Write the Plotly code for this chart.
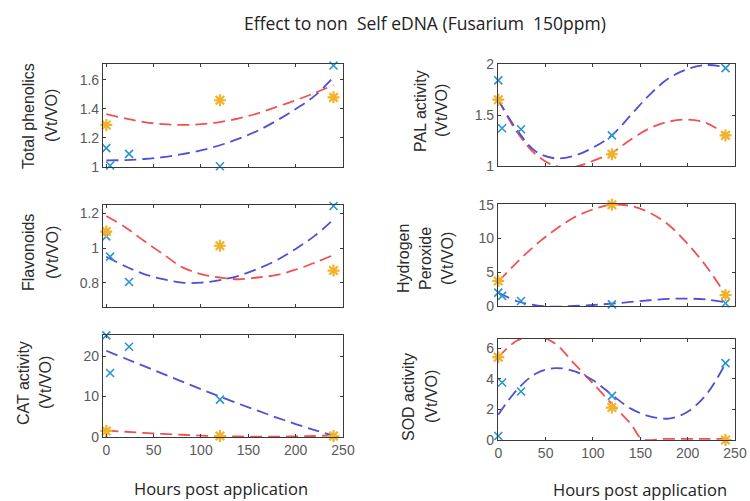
import plotly.graph_objects as go

# ---------------- data ----------------
hours_blue = [0, 4, 24, 120, 240]
hours_yellow = [0, 120, 240]
fit_hours = [0, 20, 40, 60, 80, 100, 120, 140, 160, 180, 200, 220, 240]

phen_blue = [1.13, 1.01, 1.09, 1.005, 1.70]
phen_yellow = [1.29, 1.46, 1.48]
phen_fit_blue = [1.045, 1.048, 1.055, 1.068, 1.088, 1.115, 1.15, 1.195, 1.25, 1.32, 1.40, 1.49, 1.62]
phen_fit_red = [1.365, 1.335, 1.31, 1.295, 1.29, 1.295, 1.31, 1.335, 1.37, 1.415, 1.46, 1.51, 1.565]

pal_blue = [1.84, 1.37, 1.36, 1.30, 1.96]
pal_yellow = [1.65, 1.115, 1.30]
pal_fit_blue = [1.65, 1.35, 1.14, 1.075, 1.10, 1.18, 1.30, 1.50, 1.70, 1.86, 1.95, 1.99, 1.97]
pal_fit_red = [1.65, 1.33, 1.11, 1.00, 0.99, 1.05, 1.13, 1.26, 1.37, 1.435, 1.455, 1.42, 1.31]

flav_blue = [1.067, 0.95, 0.804, 0.657, 1.242]
flav_yellow = [1.095, 1.013, 0.87]
flav_fit_blue = [0.95, 0.895, 0.85, 0.82, 0.80, 0.80, 0.815, 0.84, 0.88, 0.93, 0.995, 1.07, 1.165]
flav_fit_red = [1.185, 1.12, 1.04, 0.965, 0.89, 0.85, 0.83, 0.82, 0.83, 0.845, 0.875, 0.915, 0.96]

h2o2_blue = [1.98, 1.49, 0.74, 0.25, 0.4]
h2o2_yellow = [3.7, 15.0, 1.63]
h2o2_fit_blue = [2.0, 0.7, 0.1, -0.1, 0.0, 0.15, 0.35, 0.6, 0.85, 1.05, 1.1, 0.95, 0.55]
h2o2_fit_red = [3.6, 6.5, 9.1, 11.3, 13.1, 14.3, 15.0, 14.8, 13.8, 12.0, 9.2, 5.8, 1.7]

cat_blue = [25.1, 15.8, 22.3, 9.25, 0.25]
cat_yellow = [1.5, 0.25, 0.25]
cat_fit_blue = [21.3, 19.4, 17.5, 15.6, 13.7, 11.8, 10.0, 8.2, 6.5, 4.8, 3.2, 1.7, 0.3]
cat_fit_red = [1.6, 1.3, 1.0, 0.75, 0.55, 0.35, 0.2, 0.12, 0.08, 0.1, 0.15, 0.25, 0.4]

sod_blue = [0.26, 3.76, 3.17, 2.88, 5.02]
sod_yellow = [5.41, 2.12, 0.0]
sod_fit_blue = [1.65, 3.3, 4.35, 4.7, 4.5, 3.9, 2.95, 2.05, 1.55, 1.4, 1.85, 3.0, 5.0]
sod_red_hours = [0, 20, 40, 60, 80, 100, 120, 140, 152, 175, 200, 220, 240]
sod_fit_red = [5.4, 6.5, 6.8, 6.3, 5.0, 3.7, 2.35, 1.05, 0.07, 0.07, 0.07, 0.07, 0.07]

x_ticks = [0, 50, 100, 150, 200, 250]

title_text = "Effect to non \u00a0Self eDNA (Fusarium \u00a0150ppm)"
x_title = "Hours post application"

panels = [
    dict(blue=phen_blue, yellow=phen_yellow, fb=phen_fit_blue, fr=phen_fit_red, frx=fit_hours,
         yr=[1.0, 1.71], yt=[1, 1.2, 1.4, 1.6], lab=["Total phenolics", "(Vt/VO)"], xt=False),
    dict(blue=pal_blue, yellow=pal_yellow, fb=pal_fit_blue, fr=pal_fit_red, frx=fit_hours,
         yr=[1.0, 2.0], yt=[1, 1.5, 2], lab=["PAL activity", "(Vt/VO)"], xt=False),
    dict(blue=flav_blue, yellow=flav_yellow, fb=flav_fit_blue, fr=flav_fit_red, frx=fit_hours,
         yr=[0.66, 1.248], yt=[0.8, 1, 1.2], lab=["Flavonoids", "(Vt/VO)"], xt=False),
    dict(blue=h2o2_blue, yellow=h2o2_yellow, fb=h2o2_fit_blue, fr=h2o2_fit_red, frx=fit_hours,
         yr=[0, 15.1], yt=[0, 5, 10, 15], lab=["Hydrogen", "Peroxide", "(Vt/VO)"], xt=False),
    dict(blue=cat_blue, yellow=cat_yellow, fb=cat_fit_blue, fr=cat_fit_red, frx=fit_hours,
         yr=[0, 25.2], yt=[0, 10, 20], lab=["CAT activity", "(Vt/VO)"], xt=True),
    dict(blue=sod_blue, yellow=sod_yellow, fb=sod_fit_blue, fr=sod_fit_red, frx=sod_red_hours,
         yr=[0, 6.6], yt=[0, 2, 4, 6], lab=["SOD activity", "(Vt/VO)"], xt=True),
]

# ---------------- layout geometry (pixels) ----------------
W, H = 750, 501
xdom_px = [(103, 343), (498, 735)]
ydom_px = [[(64, 167), (64, 166)], [(205, 307), (204, 306)], [(335, 437), (339, 440)]]
xranges = [[-3.5, 250], [-0.3, 250]]
# first-line x, line spacing, vertical centre
ylab_px = [[(28, 23, 116), (421, 21, 111)], [(28, 24, 253), (403, 22, 259)], [(23, 22, 383), (408, 23, 397)]]

BLUE_LINE = "#4f4fd8"
RED_LINE = "#f05252"
BLUE_MK = "#2b94cc"
YEL_MK = "#f2b22a"
AXIS_C = "#3a3a3a"
TICK_C = "#5a5a5a"
DASH = "12px,6px"

fig = go.Figure()
annotations = []
layout = {}
for i, p in enumerate(panels):
    row, col = i // 2, i % 2
    n = i + 1
    xa = "x" if n == 1 else f"x{n}"
    ya = "y" if n == 1 else f"y{n}"
    fig.add_trace(go.Scatter(x=p["frx"], y=p["fr"], mode="lines", xaxis=xa, yaxis=ya,
                             line=dict(color=RED_LINE, width=1.8, dash=DASH, shape="spline"),
                             showlegend=False, hoverinfo="skip"))
    fig.add_trace(go.Scatter(x=fit_hours, y=p["fb"], mode="lines", xaxis=xa, yaxis=ya,
                             line=dict(color=BLUE_LINE, width=1.8, dash=DASH, shape="spline"),
                             showlegend=False, hoverinfo="skip"))
    fig.add_trace(go.Scatter(x=hours_blue, y=p["blue"], mode="markers", xaxis=xa, yaxis=ya,
                             marker=dict(symbol="x-thin", size=8, line=dict(color=BLUE_MK, width=1.6)),
                             showlegend=False, cliponaxis=False))
    fig.add_trace(go.Scatter(x=hours_yellow, y=p["yellow"], mode="markers", xaxis=xa, yaxis=ya,
                             marker=dict(symbol="asterisk", size=10, line=dict(color=YEL_MK, width=2.2)),
                             showlegend=False, cliponaxis=False))
    x0, x1 = xdom_px[col]
    yt0, yt1 = ydom_px[row][col]
    key_x = "xaxis" if n == 1 else f"xaxis{n}"
    key_y = "yaxis" if n == 1 else f"yaxis{n}"
    layout[key_x] = dict(domain=[x0 / W, x1 / W], range=xranges[col], anchor=ya,
                         tickvals=x_ticks, showticklabels=p["xt"], ticks="inside", ticklen=3,
                         tickcolor=AXIS_C, showline=True, linecolor=AXIS_C, linewidth=1.2,
                         mirror="ticks", showgrid=False, zeroline=False, automargin=False,
                         tickfont=dict(family="Liberation Sans, Arial", size=14, color=TICK_C))
    layout[key_y] = dict(domain=[1 - yt1 / H, 1 - yt0 / H], range=p["yr"], anchor=xa,
                         tickvals=p["yt"], ticks="inside", ticklen=3, tickcolor=AXIS_C,
                         showline=True, linecolor=AXIS_C, linewidth=1.2, mirror="ticks",
                         showgrid=False, zeroline=False, automargin=False,
                         tickfont=dict(family="Liberation Sans, Arial", size=14, color=TICK_C))
    lx, sp, ly = ylab_px[row][col]
    for k, line in enumerate(p["lab"]):
        annotations.append(dict(text=line, x=(lx + k * sp) / W, y=1 - ly / H, xref="paper", yref="paper",
                                textangle=-90, showarrow=False, xanchor="center", yanchor="middle",
                                font=dict(family="Liberation Sans, Arial", size=16, color="#2a2a2a")))

annotations.append(dict(text=title_text, x=425 / W, y=1 - 23 / H, xref="paper", yref="paper",
                        showarrow=False, xanchor="center", yanchor="middle",
                        font=dict(family="Open Sans", size=17.5, color="#222222")))
annotations.append(dict(text=x_title, x=221 / W, y=1 - 488 / H, xref="paper", yref="paper",
                        showarrow=False, xanchor="center", yanchor="middle",
                        font=dict(family="Open Sans", size=16.5, color="#222222")))
annotations.append(dict(text=x_title, x=640 / W, y=1 - 489 / H, xref="paper", yref="paper",
                        showarrow=False, xanchor="center", yanchor="middle",
                        font=dict(family="Open Sans", size=16.5, color="#222222")))

fig.update_layout(width=W, height=H, margin=dict(l=0, r=0, t=0, b=0),
                  paper_bgcolor="white", plot_bgcolor="white",
                  annotations=annotations, **layout)

fig.write_html("out.html", config={"displayModeBar": False},
               post_script="document.body.style.margin='0px';document.body.style.overflow='hidden';")
